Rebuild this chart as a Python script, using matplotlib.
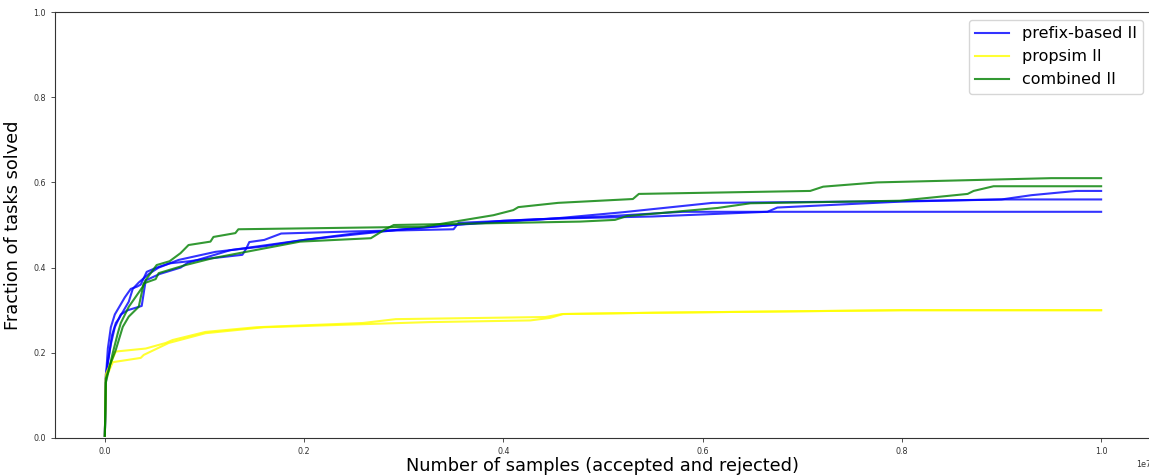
import matplotlib
matplotlib.use("Agg")
import matplotlib.pyplot as plt

# Cumulative fraction of tasks solved vs. number of samples drawn, several runs per method.
prefix_runs_x = [
    [0, 1e4, 4e4, 7e4, 1.1e5, 1.4e5, 2.4e5, 2.8e5, 3.4e5, 4.4e5, 5.4e5, 7.4e5, 1.11e6,
     1.6e6, 2.0e6, 2.5e6, 3.5e6, 4.5e6, 5.2e6, 6.1e6, 8.0e6, 9.0e6, 9.3e6, 9.75e6, 1.0e7],
    [0, 1e4, 3e4, 6e4, 1e5, 1.5e5, 2.0e5, 2.6e5, 3.2e5, 3.6e5, 4.2e5, 5.2e5, 6.5e5, 8.5e5,
     1.0e6, 1.38e6, 1.42e6, 1.45e6, 1.6e6, 1.77e6, 2.5e6, 3.5e6, 3.55e6, 4.5e6, 5.5e6,
     6.65e6, 6.75e6, 8.0e6, 9.0e6, 1.0e7],
    [0, 1e4, 3e4, 6e4, 1e5, 1.6e5, 2.3e5, 3.7e5, 4.1e5, 5.5e5, 7.6e5, 8.3e5, 1.26e6, 2.0e6,
     2.6e6, 3.0e6, 4.0e6, 5.0e6, 5.8e6, 1.0e7],
]
prefix_runs_y = [
    [0.005, 0.15, 0.19, 0.24, 0.27, 0.28, 0.32, 0.35, 0.365, 0.385, 0.40, 0.418, 0.437,
     0.45, 0.465, 0.48, 0.50, 0.515, 0.53, 0.552, 0.556, 0.56, 0.57, 0.58, 0.58],
    [0.005, 0.14, 0.21, 0.26, 0.29, 0.31, 0.33, 0.35, 0.355, 0.36, 0.39, 0.40, 0.41, 0.415,
     0.42, 0.43, 0.445, 0.46, 0.465, 0.48, 0.485, 0.49, 0.505, 0.515, 0.52,
     0.531, 0.541, 0.555, 0.56, 0.56],
    [0.005, 0.13, 0.18, 0.22, 0.26, 0.29, 0.30, 0.31, 0.37, 0.385, 0.40, 0.411, 0.441, 0.465,
     0.48, 0.49, 0.51, 0.52, 0.531, 0.531],
]

propsim_runs_x = [
    [0, 1e4, 1.1e5, 4.1e5, 6.1e5, 6.8e5, 1.01e6, 1.52e6, 2.59e6, 2.92e6, 4.42e6, 4.59e6,
     5.5e6, 8.0e6, 1.0e7],
    [0, 1e4, 8e4, 3.6e5, 3.9e5, 6.4e5, 1.01e6, 1.6e6, 3.25e6, 4.27e6, 4.47e6, 4.6e6,
     5.5e6, 8.0e6, 1.0e7],
]
propsim_runs_y = [
    [0.005, 0.15, 0.203, 0.21, 0.223, 0.23, 0.249, 0.26, 0.27, 0.279, 0.284, 0.291,
     0.294, 0.30, 0.30],
    [0.005, 0.14, 0.178, 0.188, 0.195, 0.223, 0.246, 0.26, 0.272, 0.276, 0.282, 0.291,
     0.294, 0.30, 0.30],
]

combined_runs_x = [
    [0, 1e4, 4e4, 8e4, 1.3e5, 1.6e5, 2.4e5, 3.8e5, 4.1e5, 5.2e5, 6.5e5, 7.6e5, 8.4e5,
     1.06e6, 1.09e6, 1.31e6, 1.34e6, 3.2e6, 3.9e6, 4.1e6, 4.15e6, 4.55e6, 5.3e6, 5.36e6,
     7.08e6, 7.21e6, 7.75e6, 9.5e6, 1.0e7],
    [0, 1e4, 5e4, 1.1e5, 1.8e5, 2.4e5, 3.4e5, 3.9e5, 5.1e5, 5.4e5, 8.1e5, 1.08e6, 1.96e6,
     2.67e6, 2.8e6, 2.9e6, 4.77e6, 5.12e6, 5.24e6, 6.15e6, 6.48e6, 7.98e6, 8.66e6, 8.72e6,
     8.92e6, 1.0e7],
]
combined_runs_y = [
    [0.005, 0.14, 0.16, 0.20, 0.246, 0.27, 0.308, 0.355, 0.371, 0.406, 0.415, 0.434, 0.453,
     0.461, 0.472, 0.481, 0.49, 0.496, 0.523, 0.535, 0.542, 0.552, 0.561, 0.573,
     0.58, 0.59, 0.60, 0.61, 0.61],
    [0.005, 0.13, 0.17, 0.207, 0.261, 0.285, 0.308, 0.363, 0.373, 0.387, 0.406, 0.422, 0.461,
     0.469, 0.488, 0.50, 0.508, 0.512, 0.521, 0.54, 0.551, 0.557, 0.573, 0.58,
     0.591, 0.591],
]

methods = [
    ("prefix-based II", "blue", prefix_runs_x, prefix_runs_y),
    ("propsim II", "yellow", propsim_runs_x, propsim_runs_y),
    ("combined II", "green", combined_runs_x, combined_runs_y),
]

fig = plt.figure(figsize=(11.49, 4.75), dpi=100)
ax = fig.add_axes([0.0479, 0.0779, 0.9538, 0.8968])

for label, color, xs, ys in methods:
    for i, (x, y) in enumerate(zip(xs, ys)):
        ax.plot(x, y, color=color, alpha=0.8, linewidth=1.5,
                label=label if i == 0 else None)

ax.set_ylim(0, 1.0)
ax.set_yticks([0.0, 0.2, 0.4, 0.6, 0.8, 1.0])
ax.set_xticks([0, 2e6, 4e6, 6e6, 8e6, 1e7])

for side in ("left", "bottom", "top", "right"):
    ax.spines[side].set_color("#333333")
    ax.spines[side].set_linewidth(0.8)

ax.tick_params(axis="both", labelsize=5.8, length=3, width=0.6, colors="#333333",
               labelcolor="#333333")
ax.xaxis.get_offset_text().set_fontsize(5.8)
ax.xaxis.get_offset_text().set_color("#333333")

ax.set_xlabel("Number of samples (accepted and rejected)", fontsize=12.8, labelpad=1)
ax.set_ylabel("Fraction of tasks solved", fontsize=12.8, labelpad=8)

ax.legend(loc="upper right", fontsize=11.5, handlelength=2.1, framealpha=0.8)

fig.savefig("out.png", dpi=100)
